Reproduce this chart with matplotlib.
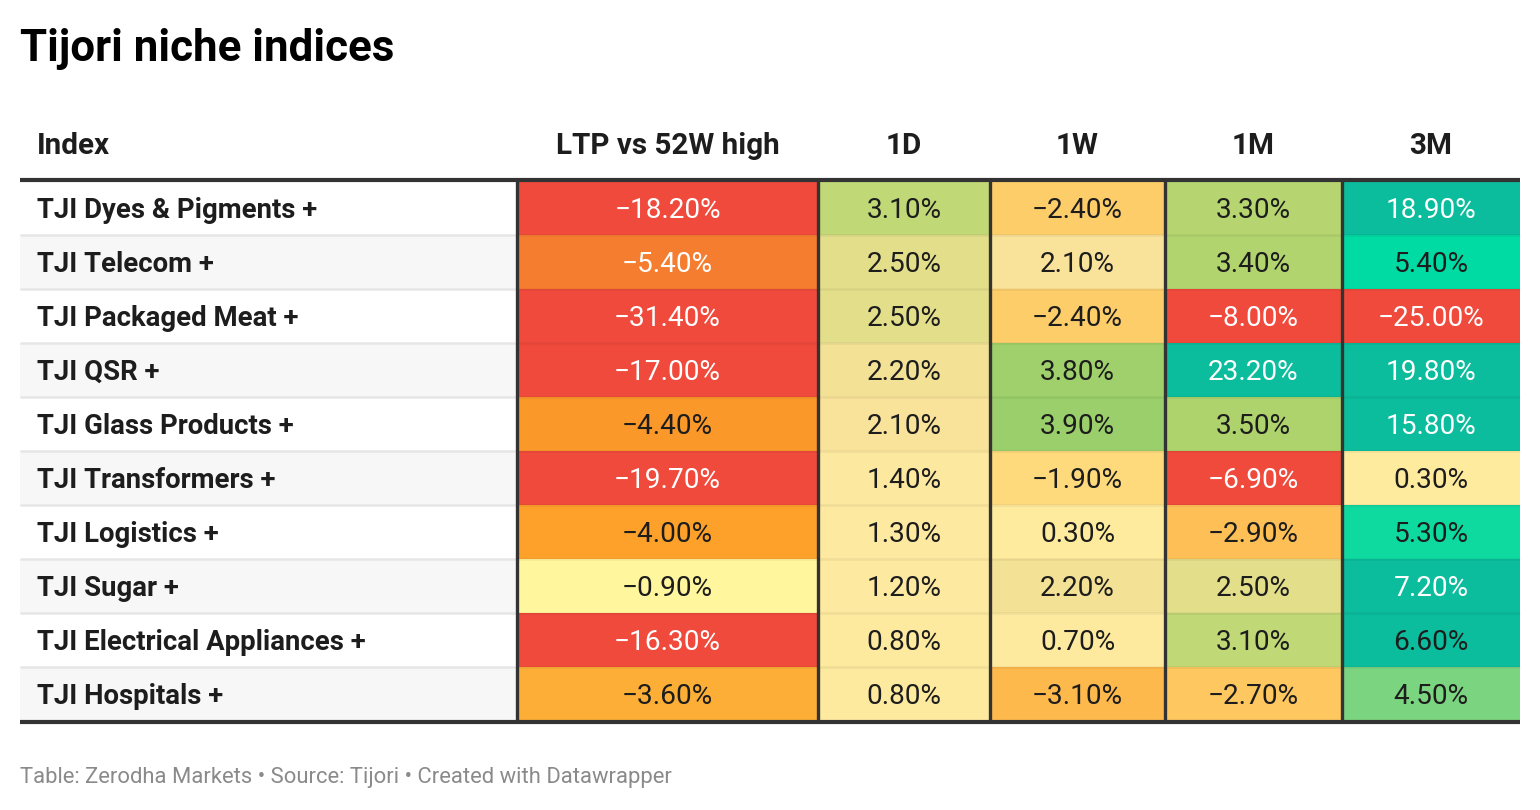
import matplotlib
matplotlib.use("Agg")
import matplotlib.pyplot as plt
import numpy as np
from matplotlib.patches import Rectangle
from matplotlib.colors import LinearSegmentedColormap, to_rgb

plt.rcParams['font.family'] = ['Roboto', 'DejaVu Sans']

# ---------------- data ----------------
title = "Tijori niche indices"
footer = "Table: Zerodha Markets \u2022 Source: Tijori \u2022 Created with Datawrapper"
columns = ["Index", "LTP vs 52W high", "1D", "1W", "1M", "3M"]
indices = ["TJI Dyes & Pigments +", "TJI Telecom +", "TJI Packaged Meat +", "TJI QSR +",
           "TJI Glass Products +", "TJI Transformers +", "TJI Logistics +", "TJI Sugar +",
           "TJI Electrical Appliances +", "TJI Hospitals +"]
ltp_vs_52w = [-18.2, -5.4, -31.4, -17.0, -4.4, -19.7, -4.0, -0.9, -16.3, -3.6]
ret_1d = [3.1, 2.5, 2.5, 2.2, 2.1, 1.4, 1.3, 1.2, 0.8, 0.8]
ret_1w = [-2.4, 2.1, -2.4, 3.8, 3.9, -1.9, 0.3, 2.2, 0.7, -3.1]
ret_1m = [3.3, 3.4, -8.0, 23.2, 3.5, -6.9, -2.9, 2.5, 3.1, -2.7]
ret_3m = [18.9, 5.4, -25.0, 19.8, 15.8, 0.3, 5.3, 7.2, 6.6, 4.5]
value_cols = [ltp_vs_52w, ret_1d, ret_1w, ret_1m, ret_3m]

# ---------------- colour scale (value -> colour) ----------------
scale_stops = [(-8.0, "#f04a3c"), (-6.9, "#f04a3c"), (-5.4, "#f57d2f"), (-4.4, "#fb982a"),
               (-4.0, "#fda12b"), (-3.6, "#fdae36"), (-3.1, "#feb94d"), (-2.7, "#fec760"),
               (-2.4, "#fdcd6a"), (-1.9, "#feda7c"), (-0.9, "#fff69d"), (0.3, "#feeb9e"),
               (1.3, "#fde9a0"), (2.1, "#f9e29a"), (2.5, "#e3de8a"), (3.1, "#bfd876"),
               (3.5, "#aed36d"), (3.9, "#9acf6b"), (4.5, "#7bd480"), (5.4, "#00dba4"),
               (6.6, "#0bbc9d"), (25.0, "#0bbd9c")]
vmin, vmax = scale_stops[0][0], scale_stops[-1][0]
cmap = LinearSegmentedColormap.from_list(
    "dw", [((v - vmin) / (vmax - vmin), c) for v, c in scale_stops], N=2048)


def cell_color(v):
    v = min(max(v, vmin), vmax)
    return cmap((v - vmin) / (vmax - vmin))


def text_color(v):
    return "white" if (v <= -5.0 or v >= 7.0) else "#1d1d1d"


def fmt(v):
    s = f"{abs(v):.2f}%"
    return ("\u2212" + s) if v < 0 else s


# ---------------- layout ----------------
W, H = 1540, 810
fig = plt.figure(figsize=(W / 100, H / 100), dpi=100)
ax = fig.add_axes([0, 0, 1, 1])
ax.set_xlim(0, W)
ax.set_ylim(H, 0)
ax.axis("off")

col_edges = [20, 517, 818, 990, 1165, 1342, 1520]
table_top, table_bottom = 181, 721
n = len(indices)
row_h = (table_bottom - table_top) / n
dark = "#333333"
txt = "#1d1d1d"

ax.text(20, 61, title, fontsize=31.6, fontweight="bold", color="#000000",
        ha="left", va="baseline")

# header
for j, c in enumerate(columns):
    if j == 0:
        ax.text(37, 154, c, fontsize=21.3, fontweight="bold", color=txt, ha="left", va="baseline")
    else:
        xc = (col_edges[j] + col_edges[j + 1]) / 2
        ax.text(xc, 154, c, fontsize=21.3, fontweight="bold", color=txt, ha="center", va="baseline")

# rows
for i, name in enumerate(indices):
    y0 = table_top + i * row_h
    bg = "#f7f7f7" if i % 2 == 1 else "white"
    ax.add_patch(Rectangle((col_edges[0], y0), col_edges[1] - col_edges[0], row_h,
                           facecolor=bg, edgecolor="none", zorder=1))
    ax.text(37, y0 + row_h / 2 + 9.5, name, fontsize=19.8, fontweight="bold", color=txt,
            ha="left", va="baseline", zorder=5)
    for j, vals in enumerate(value_cols):
        v = vals[i]
        x0, x1 = col_edges[j + 1], col_edges[j + 2]
        ax.add_patch(Rectangle((x0, y0), x1 - x0, row_h, facecolor=cell_color(v),
                               edgecolor="none", zorder=1))
        ax.text((x0 + x1) / 2, y0 + row_h / 2 + 9.5, fmt(v), fontsize=20.2, color=text_color(v),
                ha="center", va="baseline", zorder=5)
    if i > 0:
        ax.plot([col_edges[0], col_edges[1]], [y0, y0], color="#e6e6e6", lw=1.8, zorder=2,
                solid_capstyle="butt")
        ax.plot([col_edges[1], col_edges[-1]], [y0, y0], color="black", alpha=0.05, lw=1.8,
                zorder=2, solid_capstyle="butt")

# vertical dark borders
for x in col_edges[1:-1]:
    ax.plot([x, x], [table_top, table_bottom], color=dark, lw=2.4, zorder=3,
            solid_capstyle="butt")

# thick horizontal lines
ax.plot([col_edges[0], col_edges[-1]], [table_top - 1, table_top - 1], color=dark, lw=3,
        zorder=4, solid_capstyle="butt")
ax.plot([col_edges[0], col_edges[-1]], [table_bottom + 1, table_bottom + 1], color=dark, lw=3,
        zorder=4, solid_capstyle="butt")

ax.text(20, 783, footer, fontsize=15.8, color="#8a8a8a", ha="left", va="baseline")

fig.savefig("out.png", dpi=100, facecolor="white")
